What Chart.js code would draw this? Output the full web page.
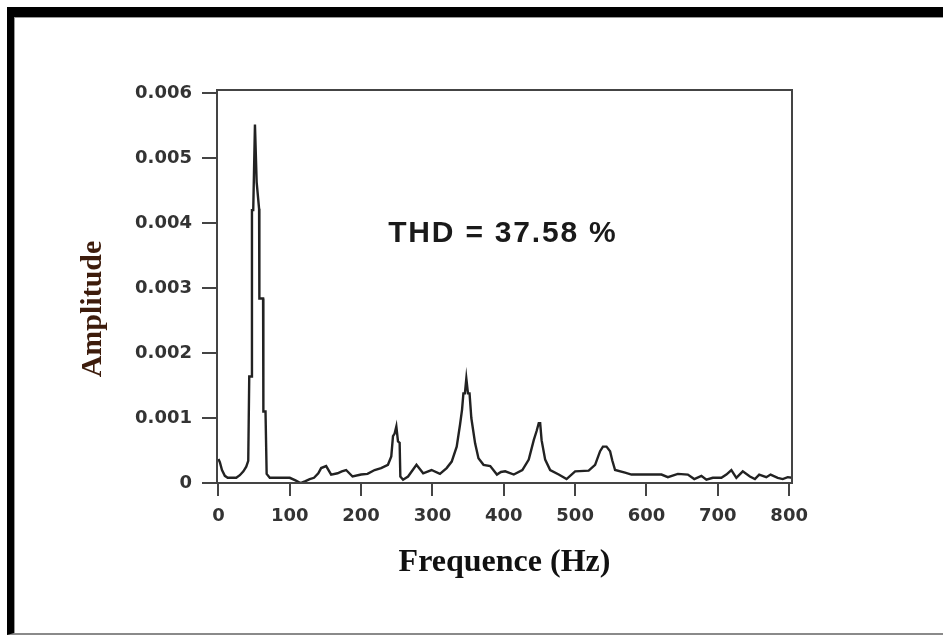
<!DOCTYPE html>
<html><head><meta charset="utf-8">
<script src="https://cdn.jsdelivr.net/npm/chart.js@4.4.1/dist/chart.umd.min.js"></script>
<style>
html,body{margin:0;padding:0;background:#fff;}
#wrap{position:relative;width:943px;height:636px;overflow:hidden;background:#fff;}
#frame{position:absolute;left:7px;top:7px;width:960px;height:628px;border-left:7px solid #000;border-top:10px solid #000;border-bottom:2px solid #8a8a8a;box-sizing:border-box;}
#inner{position:absolute;left:0;top:0;right:0;bottom:0;border-left:1px solid #999;border-top:1px solid #999;}
canvas{position:absolute;left:0;top:0;}
</style></head>
<body><div id="wrap"><div id="frame"><div id="inner"></div></div><canvas id="c" width="943" height="636"></canvas></div>
<script>
// ---- data ----
const freqHz = [0,2,5,9,13,25,30,35,39,41.8,43.2,46.6,47,48.8,51.2,53.6,57,57.4,62.6,63,66,67.6,72,85,100,108,115,122,128,134,140,144,151,158,167,173,179,188,200,209,219,228,237.6,242.3,244.7,247,249.4,251.7,254,255,258.8,265.8,277.6,287,298.7,310.5,319.9,327,334,338.7,341.5,343.4,345.5,347.5,349.8,352,354.5,359.8,364.5,371.6,381,390.4,396,402,414,426,435,442,446,449,451,453,458,465,477,488,500,519,528,535,539,544,549,552,556,570,579,621,630,644,658,667,677,684,693,705,712,719,726,735,745,752,758,768,774,784,791,798,804];
const amplitude = [0.00037,0.00032,0.00020,0.00011,0.00008,0.00008,0.00012,0.00018,0.00025,0.00034,0.00164,0.00164,0.00420,0.00420,0.00552,0.00463,0.00422,0.00284,0.00284,0.00110,0.00110,0.00014,0.00008,0.00008,0.00008,0.00004,0.00000,0.00003,0.00006,0.00008,0.00015,0.00023,0.00026,0.00013,0.00015,0.00018,0.00020,0.00010,0.00013,0.00014,0.00020,0.00023,0.00028,0.00041,0.00072,0.00076,0.00087,0.00064,0.00062,0.00010,0.00005,0.00010,0.00028,0.00015,0.00020,0.00014,0.00023,0.00033,0.00056,0.00090,0.00113,0.00138,0.00138,0.00161,0.00138,0.00138,0.00100,0.00061,0.00038,0.00028,0.00026,0.00013,0.00017,0.00018,0.00013,0.00020,0.00036,0.00066,0.00080,0.00092,0.00092,0.00066,0.00036,0.00020,0.00013,0.00006,0.00018,0.00019,0.00028,0.00049,0.00056,0.00056,0.00049,0.00035,0.00020,0.00016,0.00013,0.00013,0.00009,0.00014,0.00013,0.00006,0.00011,0.00005,0.00008,0.00008,0.00013,0.00020,0.00008,0.00018,0.00010,0.00006,0.00013,0.00009,0.00013,0.00008,0.00006,0.00009,0.00008];
const xTicks = [0,100,200,300,400,500,600,700,800];
const xTickLabels = ['0','100','200','300','400','500','600','700','800'];
const yTicks = [0,0.001,0.002,0.003,0.004,0.005,0.006];
const yTickLabels = ['0','0.001','0.002','0.003','0.004','0.005','0.006'];
const xTitle = 'Frequence (Hz)';
const yTitle = 'Amplitude';
const thdLabel = 'THD = 37.58 %';

// ---- chart ----
const framePlugin = {
  id: 'plotFrame',
  afterDraw(chart) {
    const {ctx, chartArea: a} = chart;
    ctx.save();
    ctx.strokeStyle = '#444';
    ctx.lineWidth = 2;
    ctx.strokeRect(a.left, a.top, a.right - a.left, a.bottom - a.top);
    ctx.restore();
  }
};
const thdPlugin = {
  id: 'thdText',
  afterDatasetsDraw(chart, args, opts) {
    const {ctx, scales} = chart;
    ctx.save();
    ctx.font = 'bold 30px "Liberation Sans", Arial, sans-serif';
    ctx.fillStyle = '#1a1a1a';
    ctx.textAlign = 'left';
    ctx.textBaseline = 'middle';
    if ('letterSpacing' in ctx) ctx.letterSpacing = '1.8px';
    ctx.fillText(thdLabel, scales.x.getPixelForValue(opts.atX), scales.y.getPixelForValue(opts.atY));
    ctx.restore();
  }
};

new Chart(document.getElementById('c'), {
  type: 'line',
  data: {
    datasets: [{
      data: freqHz.map((f, i) => ({x: f, y: amplitude[i]})),
      borderColor: '#222',
      borderWidth: 2.4,
      pointRadius: 0,
      tension: 0,
      fill: false
    }]
  },
  options: {
    responsive: false,
    animation: false,
    devicePixelRatio: 1,
    layout: {padding: {left: 75, top: 90, right: 151, bottom: 40}},
    plugins: {
      legend: {display: false},
      tooltip: {enabled: false},
      thdText: {atX: 238, atY: 0.00383}
    },
    scales: {
      x: {
        type: 'linear', min: -2, max: 804,
        afterBuildTicks: s => { s.ticks = xTicks.map(v => ({value: v})); },
        afterFit: s => { s.height = 113; },
        grid: {display: true, drawOnChartArea: false, drawTicks: true, tickLength: 13, color: '#444', lineWidth: 2},
        border: {display: true, color: '#444', width: 2},
        ticks: {padding: 10, color: '#333', font: {family: 'DejaVu Sans', size: 18, weight: 'bold'}, maxRotation: 0, autoSkip: false,
                callback: (v, i) => xTickLabels[i]},
        title: {display: true, text: xTitle, color: '#111', font: {family: 'Liberation Serif', size: 32, weight: 'bold'}, padding: {top: 0, bottom: 14}}
      },
      y: {
        type: 'linear', min: 0, max: 0.00605,
        afterBuildTicks: s => { s.ticks = yTicks.map(v => ({value: v})); },
        afterFit: s => { s.width = 142; },
        grid: {display: true, drawOnChartArea: false, drawTicks: true, tickLength: 15, color: '#444', lineWidth: 2},
        border: {display: true, color: '#444', width: 2},
        ticks: {padding: 10, color: '#333', font: {family: 'DejaVu Sans', size: 18, weight: 'bold'}, autoSkip: false,
                callback: (v, i) => yTickLabels[i]},
        title: {display: true, text: yTitle + '      ', color: '#3d1c0c', font: {family: 'Liberation Serif', size: 30, weight: 'bold'}, padding: {top: 0, bottom: 0}}
      }
    }
  },
  plugins: [framePlugin, thdPlugin]
});
</script>
</body></html>
